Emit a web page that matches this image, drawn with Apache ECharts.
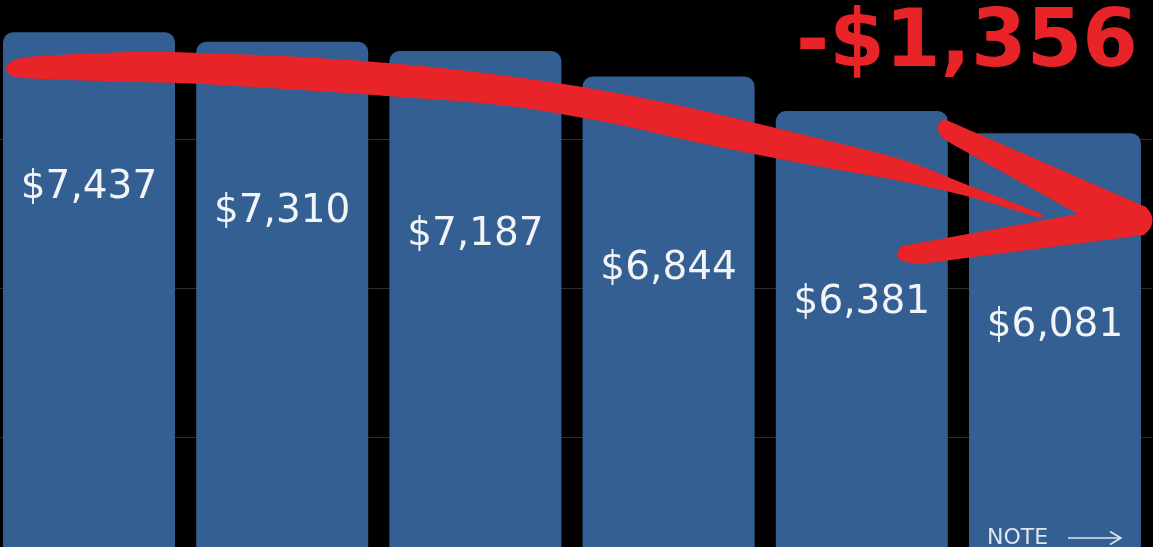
<!DOCTYPE html>
<html><head><meta charset="utf-8">
<script src="https://cdn.jsdelivr.net/npm/echarts/dist/echarts.min.js"></script>
<style>html,body{margin:0;padding:0;background:#000;overflow:hidden}#chart{width:1153px;height:547px;}</style>
</head><body><div id="chart"></div>
<script>
// ---- data ----
const categories = ['1', '2', '3', '4', '5', '6'];
const values = [7437, 7310, 7187, 6844, 6381, 6081];
const yTicks = [0, 2000, 4000, 6000, 8000];
const changeText = '-$1,356';
const noteText = 'NOTE';

// ---- style ----
const labelGap = [136.5, 150.5, 164.5, 173, 172.5, 173];
const red = '#e82428';
const fmt = v => '$' + v.toLocaleString('en-US');

// smooth path helper (Catmull-Rom -> cubic Bezier) for the hand-drawn arrow decoration
function smooth(pts) {
  let d = '';
  for (let i = 0; i < pts.length - 1; i++) {
    const p0 = pts[Math.max(i - 1, 0)], p1 = pts[i], p2 = pts[i + 1], p3 = pts[Math.min(i + 2, pts.length - 1)];
    const c1 = [p1[0] + (p2[0] - p0[0]) / 6, p1[1] + (p2[1] - p0[1]) / 6];
    const c2 = [p2[0] - (p3[0] - p1[0]) / 6, p2[1] - (p3[1] - p1[1]) / 6];
    d += ` C ${c1[0]} ${c1[1]} ${c2[0]} ${c2[1]} ${p2[0]} ${p2[1]}`;
  }
  return d;
}
const topEdge = [[14,60],[40,56],[133,52],[200,53],[300,57],[400,64],[500,75],[600,90],[700,110],[800,134],[900,159],[970,186],[1040,213]];
const botEdge = [[1040,218],[970,197],[900,181],[800,163],[700,143],[600,121],[500,105],[400,97],[300,90],[200,84],[133,82],[40,79],[14,77]];
const strokePath = 'M 14 77 Q -2 68 14 60' + smooth(topEdge) + ' L 1044 216 L 1040 218' + smooth(botEdge) + ' Z';

echarts.graphic.registerShape('redStroke', echarts.graphic.extendPath(strokePath, {}));
echarts.graphic.registerShape('redHead', echarts.graphic.extendPath(
  'M 944 119 L 1146 207 Q 1160 222 1144 235 L 920 264 Q 886 262 902 246 L 1078 214 L 952 144 Q 928 130 944 119 Z', {}));

const chart = echarts.init(document.getElementById('chart'));
chart.setOption({
  backgroundColor: '#000',
  animation: false,
  grid: { left: -7.6, top: -9.6, width: 1159.2, height: 595.8, containLabel: false, outerBoundsMode: 'none' },
  xAxis: {
    type: 'category', data: categories,
    axisLine: { show: false }, axisTick: { show: false }, axisLabel: { show: false }
  },
  yAxis: {
    type: 'value', min: yTicks[0], max: yTicks[yTicks.length - 1], interval: yTicks[1] - yTicks[0],
    axisLine: { show: false }, axisTick: { show: false }, axisLabel: { show: false },
    splitLine: { show: true, lineStyle: { color: '#2e2e2e', width: 1 } }
  },
  series: [{
    type: 'bar',
    barWidth: 172,
    itemStyle: { color: '#335f92', borderRadius: [10, 10, 0, 0] },
    label: {
      show: true, position: 'insideTop',
      color: '#f2f4f8', fontSize: 39, fontWeight: 'normal',
      fontFamily: '"DejaVu Sans", sans-serif',
      formatter: p => fmt(p.value)
    },
    data: values.map((v, i) => ({ value: v, label: { distance: labelGap[i] } }))
  }],
  graphic: [
    { type: 'redStroke', z: 100, style: { fill: red } },
    { type: 'redHead', z: 100, style: { fill: red } },
    {
      type: 'text', z: 100, x: 1138, y: 45,
      style: { text: changeText, fill: red, font: 'bold 80px "DejaVu Sans"', align: 'right', verticalAlign: 'middle' }
    },
    {
      type: 'text', z: 100, x: 987, y: 538,
      style: { text: noteText, fill: '#dfe5ee', font: '22px "DejaVu Sans"', align: 'left', verticalAlign: 'middle' }
    },
    {
      type: 'polyline', z: 100,
      shape: { points: [[1068, 538], [1120, 538]] },
      style: { stroke: '#dfe5ee', lineWidth: 1.6, fill: null }
    },
    {
      type: 'polyline', z: 100,
      shape: { points: [[1110, 531.5], [1121, 538], [1110, 544.5]] },
      style: { stroke: '#dfe5ee', lineWidth: 1.6, fill: null }
    }
  ]
});
</script>
</body></html>
